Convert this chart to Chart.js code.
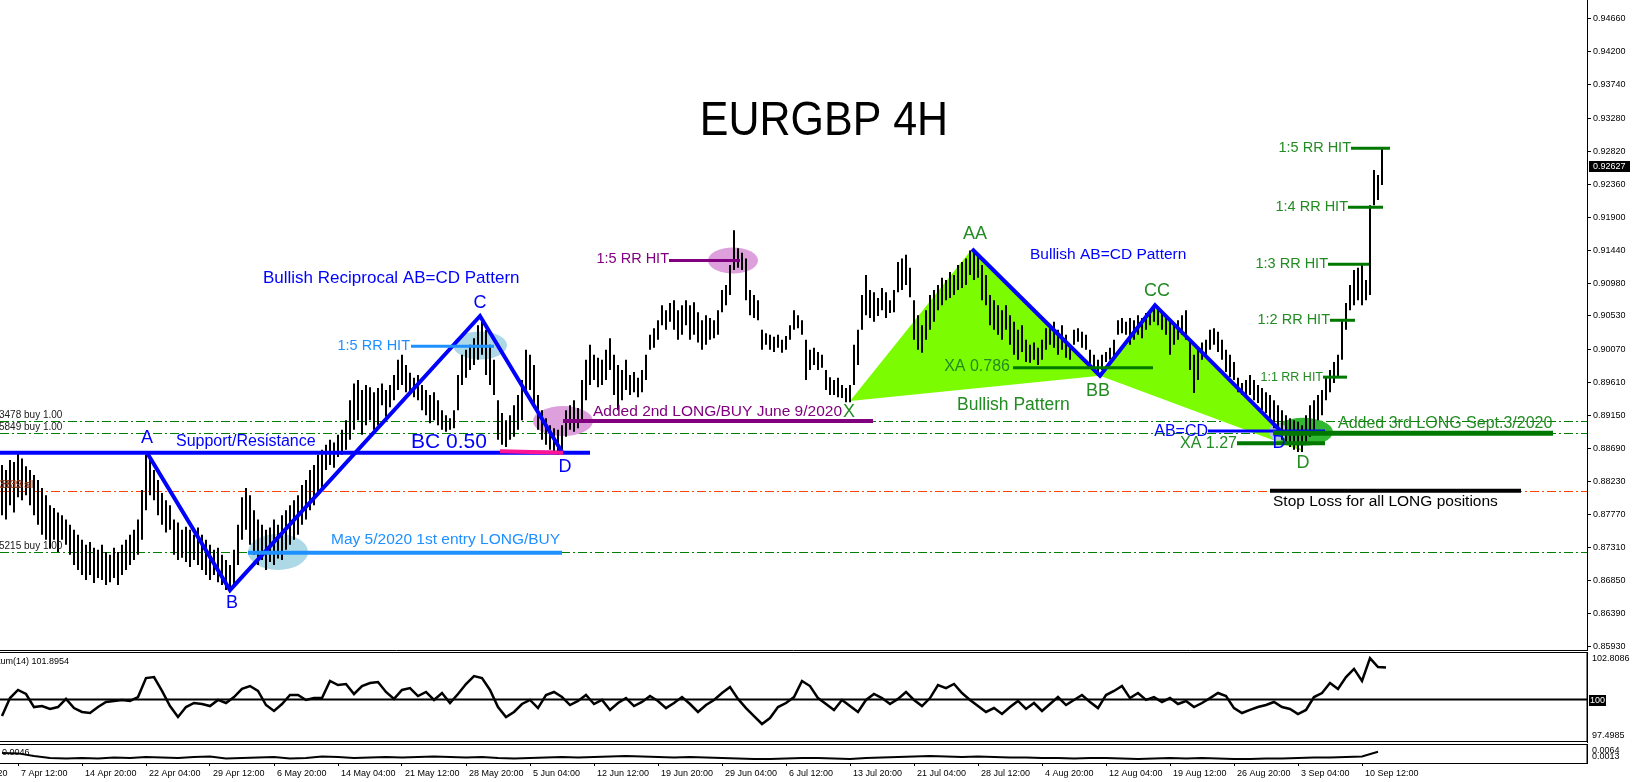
<!DOCTYPE html>
<html><head><meta charset="utf-8">
<script src="https://cdn.jsdelivr.net/npm/chart.js@4.4.1/dist/chart.umd.min.js"></script>
<style>
html,body{margin:0;padding:0;background:#fff;width:1633px;height:782px;overflow:hidden;}
canvas{position:absolute;left:0;display:block;}
#c1{top:0;} #c2{top:651px;} #c3{top:744px;}
</style></head><body>
<canvas id="c1" width="1633" height="651"></canvas>
<canvas id="c2" width="1633" height="93"></canvas>
<canvas id="c3" width="1633" height="38"></canvas>
<script>
// ---------------- DATA ----------------
// x axis = 4H bar index of the visible window (two bars per price sample)
const xMin = 0, xMax = 793.5;
const priceTicks = [0.85930,0.86390,0.86850,0.87310,0.87770,0.88230,0.88690,0.89150,0.89610,0.90070,0.90530,0.90980,0.91440,0.91900,0.92360,0.92820,0.93280,0.93740,0.94200,0.94660];
const priceMin = 0.85874, priceMax = 0.94921;
const lastPrice = 0.92627;
const dateTickBars = [-23,9,41,73,105,137,169,201,233,265,297,329,361,393,425,457,489,521,553,585,617,649,681];
const dateTickLabels = ['31 Mar 2020','7 Apr 12:00','14 Apr 20:00','22 Apr 04:00','29 Apr 12:00','6 May 20:00','14 May 04:00','21 May 12:00','28 May 20:00','5 Jun 04:00','12 Jun 12:00','19 Jun 20:00','29 Jun 04:00','6 Jul 12:00','13 Jul 20:00','21 Jul 04:00','28 Jul 12:00','4 Aug 20:00','12 Aug 04:00','19 Aug 12:00','26 Aug 20:00','3 Sep 04:00','10 Sep 12:00'];

const barHigh = [
0.8846,0.8839,0.8853,0.8850,0.8862,0.8855,0.8844,0.8839,0.8832,0.8825,
0.8814,0.8804,0.8790,0.8786,0.8780,0.8776,0.8770,0.8763,0.8756,0.8749,
0.8742,0.8735,0.8739,0.8731,0.8728,0.8735,0.8725,0.8721,0.8731,0.8725,
0.8735,0.8742,0.8749,0.8756,0.8770,0.8811,0.8860,0.8853,0.8839,0.8825,
0.8807,0.8797,0.8790,0.8770,0.8766,0.8756,0.8760,0.8756,0.8749,0.8759,
0.8749,0.8742,0.8735,0.8728,0.8731,0.8721,0.8714,0.8707,0.8728,0.8763,
0.8801,0.8814,0.8804,0.8783,0.8770,0.8763,0.8756,0.8759,0.8770,0.8763,
0.8776,0.8783,0.8790,0.8797,0.8804,0.8818,0.8825,0.8839,0.8846,0.8860,
0.8867,0.8874,0.8881,0.8877,0.8888,0.8895,0.8908,0.8936,0.8959,0.8964,
0.8950,0.8957,0.8954,0.8947,0.8953,0.8959,0.8950,0.8957,0.8971,0.8992,
0.8999,0.8985,0.8974,0.8967,0.8971,0.8957,0.8950,0.8943,0.8947,0.8936,
0.8922,0.8915,0.8911,0.8922,0.8971,0.8999,0.9006,0.9013,0.9022,0.9040,
0.9045,0.9034,0.9013,0.8992,0.8936,0.8918,0.8908,0.8915,0.8929,0.8943,
0.8964,0.9006,0.8999,0.8985,0.8943,0.8922,0.8911,0.8901,0.8897,0.8895,
0.8901,0.8922,0.8929,0.8936,0.8925,0.8964,0.8992,0.9013,0.8999,0.8995,
0.8992,0.9006,0.9022,0.8999,0.8985,0.8978,0.8992,0.8971,0.8975,0.8967,
0.8978,0.8999,0.9027,0.9036,0.9047,0.9068,0.9061,0.9071,0.9075,0.9061,
0.9068,0.9075,0.9068,0.9072,0.9058,0.9047,0.9054,0.9050,0.9047,0.9061,
0.9089,0.9096,0.9124,0.9172,0.9147,0.9141,0.9133,0.9089,0.9082,0.9075,
0.9034,0.9029,0.9027,0.9024,0.9027,0.9020,0.9025,0.9040,0.9061,0.9054,
0.9047,0.9020,0.9006,0.9009,0.9003,0.8999,0.8978,0.8968,0.8964,0.8967,
0.8957,0.8953,0.8957,0.9013,0.9034,0.9082,0.9110,0.9089,0.9086,0.9078,
0.9092,0.9086,0.9075,0.9089,0.9128,0.9133,0.9138,0.9120,0.9075,0.9054,
0.9040,0.9061,0.9082,0.9089,0.9096,0.9106,0.9103,0.9114,0.9110,0.9124,
0.9128,0.9133,0.9144,0.9141,0.9138,0.9124,0.9110,0.9082,0.9075,0.9068,
0.9061,0.9068,0.9054,0.9045,0.9034,0.9040,0.9020,0.9013,0.9016,0.9009,
0.9020,0.9036,0.9040,0.9045,0.9034,0.9040,0.9027,0.9013,0.9034,0.9036,
0.9031,0.9027,0.9006,0.8999,0.8992,0.8999,0.9003,0.9009,0.9020,0.9047,
0.9050,0.9045,0.9050,0.9047,0.9054,0.9050,0.9057,0.9061,0.9068,0.9066,
0.9058,0.9050,0.9047,0.9040,0.9047,0.9054,0.9061,0.9020,0.8999,0.9006,
0.9016,0.9020,0.9034,0.9036,0.9031,0.9020,0.9006,0.8999,0.8989,0.8967,
0.8960,0.8964,0.8971,0.8964,0.8957,0.8953,0.8947,0.8943,0.8936,0.8929,
0.8922,0.8915,0.8911,0.8908,0.8906,0.8901,0.8915,0.8929,0.8936,0.8943,
0.8950,0.8967,0.8978,0.8989,0.8999,0.9047,0.9071,0.9096,0.9117,0.9120,
0.9124,0.9103,0.9207,0.9256,0.9249,0.9287];

const barLow = [
0.8776,0.8770,0.8790,0.8780,0.8801,0.8797,0.8804,0.8790,0.8776,0.8763,
0.8749,0.8742,0.8730,0.8742,0.8725,0.8742,0.8735,0.8721,0.8707,0.8700,
0.8693,0.8686,0.8693,0.8682,0.8689,0.8686,0.8679,0.8683,0.8689,0.8679,
0.8693,0.8700,0.8707,0.8714,0.8721,0.8742,0.8783,0.8804,0.8797,0.8776,
0.8763,0.8752,0.8756,0.8721,0.8714,0.8717,0.8711,0.8704,0.8714,0.8707,
0.8700,0.8693,0.8686,0.8693,0.8683,0.8679,0.8672,0.8669,0.8679,0.8707,
0.8742,0.8756,0.8735,0.8721,0.8707,0.8714,0.8700,0.8711,0.8707,0.8716,
0.8714,0.8728,0.8735,0.8742,0.8749,0.8763,0.8770,0.8783,0.8790,0.8804,
0.8811,0.8839,0.8846,0.8842,0.8857,0.8860,0.8867,0.8881,0.8895,0.8908,
0.8888,0.8901,0.8908,0.8895,0.8901,0.8929,0.8913,0.8926,0.8936,0.8950,
0.8957,0.8947,0.8943,0.8940,0.8936,0.8922,0.8915,0.8904,0.8908,0.8901,
0.8895,0.8892,0.8895,0.8897,0.8922,0.8957,0.8967,0.8978,0.8985,0.8992,
0.8999,0.8971,0.8957,0.8943,0.8881,0.8874,0.8871,0.8881,0.8885,0.8895,
0.8908,0.8943,0.8950,0.8929,0.8895,0.8881,0.8874,0.8867,0.8864,0.8860,
0.8867,0.8885,0.8895,0.8892,0.8897,0.8908,0.8936,0.8957,0.8964,0.8954,
0.8957,0.8964,0.8978,0.8943,0.8922,0.8936,0.8950,0.8943,0.8947,0.8940,
0.8947,0.8964,0.9006,0.9009,0.9020,0.9040,0.9034,0.9045,0.9034,0.9020,
0.9027,0.9040,0.9020,0.9027,0.9016,0.9006,0.9013,0.9020,0.9022,0.9027,
0.9058,0.9068,0.9082,0.9117,0.9120,0.9117,0.9075,0.9054,0.9050,0.9047,
0.9006,0.9013,0.9006,0.9003,0.9009,0.9002,0.9006,0.9020,0.9034,0.9036,
0.9027,0.8964,0.8978,0.8985,0.8978,0.8981,0.8950,0.8943,0.8943,0.8940,
0.8939,0.8933,0.8933,0.8957,0.8985,0.9034,0.9054,0.9050,0.9045,0.9053,
0.9061,0.9050,0.9057,0.9058,0.9086,0.9089,0.9096,0.9079,0.9020,0.9006,
0.9002,0.9020,0.9034,0.9045,0.9061,0.9068,0.9075,0.9078,0.9082,0.9089,
0.9092,0.9096,0.9110,0.9103,0.9106,0.9075,0.9068,0.9040,0.9034,0.9027,
0.9020,0.9034,0.9013,0.8999,0.8992,0.9003,0.8989,0.8988,0.8992,0.8985,
0.8992,0.9006,0.9013,0.9009,0.8999,0.9006,0.8995,0.8992,0.9013,0.9017,
0.9009,0.9006,0.8981,0.8975,0.8971,0.8978,0.8989,0.8992,0.8995,0.9027,
0.9029,0.9027,0.9013,0.9020,0.9027,0.9022,0.9034,0.9040,0.9045,0.9040,
0.9034,0.9027,0.8999,0.9013,0.9020,0.9027,0.9020,0.8978,0.8946,0.8964,
0.8992,0.8995,0.9006,0.9013,0.9003,0.8992,0.8975,0.8968,0.8964,0.8947,
0.8943,0.8940,0.8943,0.8936,0.8932,0.8922,0.8918,0.8908,0.8897,0.8890,
0.8881,0.8874,0.8871,0.8867,0.8864,0.8864,0.8874,0.8885,0.8895,0.8908,
0.8915,0.8936,0.8947,0.8960,0.8967,0.8992,0.9034,0.9061,0.9068,0.9075,
0.9068,0.9075,0.9082,0.9207,0.9214,0.9235];

// Momentum(14), one value every 4 bars
const momentumValues = [
99.03,100.09,100.57,100.33,99.56,99.62,99.45,99.56,100.04,99.50,
99.27,99.21,99.56,99.86,99.92,99.98,99.92,100.15,101.27,101.33,
100.51,99.62,98.97,99.56,99.80,99.74,99.62,99.98,99.80,100.15,
100.63,100.80,100.51,99.68,99.33,99.74,100.27,100.27,99.98,100.09,
100.09,101.10,100.86,100.92,100.33,100.80,100.98,101.04,100.45,100.04,
100.57,100.68,100.21,100.45,99.98,100.39,99.80,100.33,100.92,101.39,
101.27,100.57,99.56,98.97,99.27,99.74,99.98,99.50,100.27,100.45,
100.15,99.68,99.92,100.27,99.74,99.98,99.39,99.80,100.09,99.62,
99.86,100.21,99.92,99.50,99.80,100.15,99.74,99.27,99.68,99.98,
100.39,100.74,100.04,99.50,99.03,98.56,98.91,99.56,99.80,100.15,
101.10,100.80,100.09,99.74,99.39,99.98,99.62,99.27,99.98,100.33,
100.09,99.74,100.04,100.45,99.98,99.62,100.09,100.86,100.68,100.92,
100.39,99.98,99.62,99.27,99.50,99.15,99.56,99.92,99.45,99.80,
99.33,99.74,100.15,99.68,99.98,100.27,99.86,99.50,100.27,100.51,
100.80,100.09,100.39,99.98,100.15,99.86,100.09,99.74,99.92,99.56,
99.80,100.09,100.39,100.21,99.50,99.21,99.39,99.56,99.68,99.86,
99.56,99.45,99.15,99.39,100.15,100.39,100.98,100.63,101.33,101.81,
101.10,102.45,101.92,101.90];
const momentumMin = 97.4985, momentumMax = 102.8086, momentumLevel = 100;
const momentumCaption = 'Momentum(14) 101.8954';

// lower indicator, one value every 8 bars
const lowerValues = [
0.0050,0.0048,0.0036,0.0027,0.0025,0.0027,0.0025,0.0030,0.0027,0.0032,
0.0030,0.0027,0.0032,0.0034,0.0025,0.0027,0.0030,0.0032,0.0025,0.0027,
0.0034,0.0032,0.0027,0.0030,0.0032,0.0030,0.0032,0.0034,0.0032,0.0030,
0.0032,0.0027,0.0025,0.0027,0.0030,0.0032,0.0030,0.0032,0.0034,0.0036,
0.0034,0.0032,0.0030,0.0032,0.0030,0.0027,0.0025,0.0023,0.0023,0.0025,
0.0027,0.0027,0.0025,0.0023,0.0027,0.0030,0.0032,0.0034,0.0036,0.0034,
0.0032,0.0034,0.0032,0.0030,0.0030,0.0027,0.0027,0.0025,0.0027,0.0027,
0.0025,0.0023,0.0025,0.0027,0.0025,0.0027,0.0025,0.0023,0.0023,0.0025,
0.0025,0.0027,0.0030,0.0030,0.0032,0.0034,0.0055];
const lowerMin = 0.0005, lowerMax = 0.0090;
const lowerCaption = '0.0046';
const lowerScaleLabels = ['0.0064', '0.0013'];

// trade order levels (price) and their tags
const orderLevels = [0.8907, 0.8890, 0.8810, 0.8725];
const orderTags = ['3478 buy 1.00', '5849 buy 1.00', '3839 sl', '5215 buy 1.00'];

// drawn pattern anchors: [bar, price]
const supportLine = [[0,0.8863],[295,0.8863]];
const reciprocalLegs = [[73.5,0.8863],[115,0.8672],[240,0.9053],[281,0.8864]];
const bcLine = [[250,0.8865],[281.5,0.8863]];
const firstRR = [[205.5,0.9011],[247,0.9011]];
const firstEntry = [[124,0.8724],[281,0.8724]];
const secondRR = [[334.5,0.9130],[370,0.9130]];
const secondEntry = [[281.5,0.8907],[436.5,0.8907]];
const harmonicLeft = [[425,0.8935],[486,0.9146],[550,0.8970]];
const harmonicRight = [[550,0.8970],[577.5,0.9068],[651.5,0.8865]];
const abcdLegs = [[486,0.9146],[550,0.8970],[577.5,0.9068],[640,0.8894]];
const xa786 = [[506.5,0.8981],[576.5,0.8981]];
const abcdLevel = [[604,0.8893],[662.5,0.8893]];
const xa127 = [[618.5,0.8876],[662.5,0.8876]];
const thirdEntry = [[636.5,0.8890],[776.5,0.8890]];
const rrLevels = [[[675.5,0.9286],[695,0.9286]],[[674,0.9204],[691.5,0.9204]],[[664,0.9125],[684.5,0.9125]],[[665,0.9047],[677.5,0.9047]],[[661.5,0.8968],[673.5,0.8968]]];
const stopLine = [[635,0.8810],[760.5,0.8810]];
// ellipse centres [bar, price]
const ellipseCentres = [[240,0.9012],[139,0.8725],[366.5,0.9130],[281.5,0.8907],[651.5,0.8892],[639,0.8892]];

// text notes: [text, bar, price]
const notes = [
 ['EURGBP 4H',412,0.9323],
 ['Bullish Reciprocal AB=CD Pattern',131.5,0.9106],
 ['A',73.5,0.8883],['B',116,0.8654],['C',240,0.9071],['D',282.5,0.8843],
 ['Support/Resistance',88,0.8879],
 ['BC 0.50',205.5,0.8878],
 ['1:5 RR HIT',205,0.9011],
 ['May 5/2020 1st entry LONG/BUY',165.5,0.8742],
 ['1:5 RR HIT',334.5,0.9132],
 ['Added 2nd LONG/BUY June 9/2020',296.5,0.8920],
 ['X',421.5,0.8920],
 ['AA',487.5,0.9167],['BB',549,0.8949],['CC',578.5,0.9088],
 ['Bullish AB=CD Pattern',515,0.9138],
 ['Bullish Pattern',478.5,0.8929],
 ['XA 0.786',505,0.8982],
 ['AB=CD',604,0.8892],
 ['XA 1.27',618.5,0.8876],
 ['D',639.5,0.8876],['D',651.5,0.8849],
 ['Added 3rd LONG Sept.3/2020',669,0.8904],
 ['1:5 RR HIT',675.5,0.9286],['1:4 RR HIT',674,0.9204],['1:3 RR HIT',664,0.9125],['1:2 RR HIT',665,0.9047],['1:1 RR HIT',661.5,0.8968],
 ['Stop Loss for all LONG positions',636.5,0.8795]
];

// ---------------- STYLE ----------------
const FONT = '"Liberation Sans", Arial, Helvetica, sans-serif';
const BLUE='#0000ff', DBLUE='#1e90ff', PURP='#800080', GTXT='#228b22', GLINE='#007800';
const noteStyles = [
 ['#000',48,'center',0.895],
 [BLUE,17,'left'],
 [BLUE,18,'center'],[BLUE,18,'center'],[BLUE,18,'center'],[BLUE,18,'center'],
 [BLUE,16,'left'],
 [BLUE,21,'left'],
 [DBLUE,14.5,'right'],
 [DBLUE,15.5,'left'],
 [PURP,14.5,'right'],
 [PURP,15.5,'left'],
 [GTXT,18,'left'],
 [GTXT,18,'center'],[GTXT,18,'center'],[GTXT,18,'center'],
 [BLUE,15.5,'left'],
 [GTXT,17.5,'left'],
 [GTXT,16,'right'],
 [BLUE,16,'right'],
 [GTXT,16,'right'],
 [BLUE,18,'center'],[GTXT,18,'center'],
 [GTXT,16,'left'],
 [GTXT,14.5,'right'],[GTXT,14.5,'right'],[GTXT,14.5,'right'],[GTXT,14.5,'right'],[GTXT,12.5,'right'],
 ['#000',15.5,'left']
];
const ellipseStyles = [
 ['rgb(173,216,230)',27,14],['rgb(173,216,230)',30,18],['rgb(221,160,221)',25,13],['rgb(221,160,221)',30,15],['rgb(50,185,50)',30,14],['rgb(176,196,222)',9,9]
];
const orderColors = ['#008000','#008000','#ff4500','#008000'];

Chart.defaults.font.family = FONT;
Chart.defaults.color = '#000';
Chart.defaults.animation = false;

function P(chart, pt){ return [chart.scales.x.getPixelForValue(pt[0]), chart.scales.y.getPixelForValue(pt[1])]; }
function poly(ctx, chart, pts, color, w){
  ctx.save(); ctx.strokeStyle=color; ctx.lineWidth=w; ctx.lineJoin='miter'; ctx.lineCap='butt';
  ctx.beginPath(); pts.forEach((p,i)=>{const [x,y]=P(chart,p); if(i) ctx.lineTo(x,y); else ctx.moveTo(x,y);}); ctx.stroke(); ctx.restore();
}
function fillPoly(ctx, chart, pts, color){
  ctx.save(); ctx.fillStyle=color; ctx.beginPath(); pts.forEach((p,i)=>{const [x,y]=P(chart,p); if(i) ctx.lineTo(x,y); else ctx.moveTo(x,y);}); ctx.closePath(); ctx.fill(); ctx.restore();
}
function text(ctx, s, x, y, color, size, align, sx){
  ctx.save(); ctx.font = size+'px '+FONT; ctx.fillStyle=color; ctx.textAlign=align; ctx.textBaseline='middle';
  if (sx){ ctx.translate(x,y); ctx.scale(sx,1); ctx.fillText(s,0,0); } else ctx.fillText(s,x,y);
  ctx.restore();
}
function fixAxis(s){ s.width = 46; s.paddingTop = 0; s.paddingBottom = 0; s.paddingLeft = 0; s.paddingRight = 0; }

const mainDeco = {
  id:'mainDeco',
  beforeDatasetsDraw(chart){
    const {ctx, chartArea:a} = chart;
    ctx.save(); ctx.beginPath(); ctx.rect(a.left,a.top,a.width,a.height); ctx.clip();
    orderLevels.forEach((lv,i)=>{
      const y = Math.round(chart.scales.y.getPixelForValue(lv))+0.5;
      ctx.save(); ctx.strokeStyle=orderColors[i]; ctx.lineWidth=1; ctx.setLineDash([9,3,2,3]);
      ctx.beginPath(); ctx.moveTo(a.left,y); ctx.lineTo(a.right,y); ctx.stroke(); ctx.restore();
    });
    fillPoly(ctx, chart, harmonicLeft, '#7cfc00');
    fillPoly(ctx, chart, harmonicRight, '#7cfc00');
    ellipseCentres.forEach((c,i)=>{
      const [x,y]=P(chart,c); const st=ellipseStyles[i];
      ctx.save(); ctx.fillStyle=st[0]; ctx.beginPath(); ctx.ellipse(x,y,st[1],st[2],0,0,Math.PI*2); ctx.fill(); ctx.restore();
    });
    ctx.restore();
  },
  afterDatasetsDraw(chart){
    const {ctx, chartArea:a} = chart;
    ctx.save(); ctx.beginPath(); ctx.rect(a.left,a.top,a.width,a.height); ctx.clip();
    poly(ctx,chart,supportLine,BLUE,4);
    poly(ctx,chart,reciprocalLegs,BLUE,4);
    poly(ctx,chart,bcLine,'#ff1493',4);
    poly(ctx,chart,firstRR,DBLUE,3);
    poly(ctx,chart,firstEntry,DBLUE,4);
    poly(ctx,chart,secondRR,PURP,3);
    poly(ctx,chart,secondEntry,PURP,4);
    poly(ctx,chart,abcdLegs,BLUE,4);
    poly(ctx,chart,xa786,GLINE,3);
    poly(ctx,chart,abcdLevel,BLUE,3);
    poly(ctx,chart,xa127,GLINE,4);
    poly(ctx,chart,thirdEntry,GLINE,5);
    rrLevels.forEach(l=>poly(ctx,chart,l,GLINE,3));
    poly(ctx,chart,stopLine,'#000',4);
    orderLevels.forEach((lv,i)=>{
      const y = chart.scales.y.getPixelForValue(lv)-6;
      text(ctx, orderTags[i], -1, y, i===2 ? '#b04010' : '#202020', 10, 'left');
    });
    text(ctx, '3813 sl', 1, chart.scales.y.getPixelForValue(orderLevels[2])-6, '#6a3020', 10, 'left');
    notes.forEach((n,i)=>{
      const [x,y]=P(chart,[n[1],n[2]]); const st=noteStyles[i];
      text(ctx, n[0], x, y, st[0], st[1], st[2], st[3]);
    });
    ctx.restore();
  },
  afterDraw(chart){
    const {ctx, chartArea:a} = chart;
    ctx.save(); ctx.strokeStyle='#000'; ctx.lineWidth=1;
    ctx.beginPath(); ctx.moveTo(0,a.bottom-0.5); ctx.lineTo(a.right,a.bottom-0.5); ctx.stroke();
    const y = chart.scales.y.getPixelForValue(lastPrice);
    ctx.fillStyle='#000'; ctx.fillRect(a.right+2, Math.round(y)-4, 41, 11);
    ctx.restore();
    text(ctx, lastPrice.toFixed(5), a.right+6, Math.round(y)+1.5, '#fff', 9, 'left');
  }
};

new Chart(document.getElementById('c1'), {
  type:'bar',
  data:{datasets:[{
    data: barHigh.map((h,k)=>({x:2*k+1, y:[barLow[k], h]})),
    backgroundColor:'#000', borderWidth:0, barThickness:2, inflateAmount:0, grouped:false
  }]},
  options:{
    responsive:false, animation:false, events:[],
    layout:{padding:0},
    plugins:{legend:{display:false}, tooltip:{enabled:false}},
    scales:{
      x:{type:'linear', min:xMin, max:xMax, offset:false, display:false, grid:{offset:false}},
      y:{position:'right', min:priceMin, max:priceMax,
         afterBuildTicks:s=>{ s.ticks = priceTicks.map(v=>({value:v})); },
         afterFit:fixAxis,
         ticks:{callback:v=>Number(v).toFixed(5), font:{size:9}, color:'#000', padding:2, crossAlign:'near', autoSkip:false},
         grid:{drawOnChartArea:false, drawTicks:true, tickLength:4, color:'#000'},
         border:{display:true, color:'#000', width:1}}
    }
  },
  plugins:[mainDeco]
});

const momDeco = {
  id:'momDeco',
  afterDraw(chart){
    const {ctx, chartArea:a} = chart;
    ctx.save(); ctx.strokeStyle='#000'; ctx.lineWidth=1;
    ctx.strokeRect(-1, a.top+0.5, a.right+1, a.height-1);
    const y100 = chart.scales.y.getPixelForValue(momentumLevel);
    ctx.fillStyle='#000'; ctx.fillRect(a.right+2, Math.round(y100)-5, 17, 11);
    ctx.restore();
    text(ctx, '100', a.right+3, Math.round(y100)+0.5, '#fff', 9, 'left');
    text(ctx, momentumMax.toFixed(4), a.right+5, a.top+7, '#000', 9, 'left');
    text(ctx, momentumMin.toFixed(4), a.right+5, a.bottom-6, '#000', 9, 'left');
    ctx.save(); ctx.font='9px '+FONT; const w = ctx.measureText('Moment').width; ctx.restore();
    text(ctx, momentumCaption, -w+0.5, a.top+10, '#000', 9, 'left');
  }
};

new Chart(document.getElementById('c2'), {
  type:'line',
  data:{datasets:[
    {data: momentumValues.map((v,m)=>({x:4*m+1, y:v})), borderColor:'#000', borderWidth:2.5, pointRadius:0, tension:0, fill:false},
    {data: [{x:xMin,y:momentumLevel},{x:xMax,y:momentumLevel}], borderColor:'#000', borderWidth:2, pointRadius:0, fill:false}
  ]},
  options:{
    responsive:false, animation:false, events:[],
    layout:{padding:{top:1,bottom:2,left:0,right:0}},
    plugins:{legend:{display:false}, tooltip:{enabled:false}},
    scales:{
      x:{type:'linear', min:xMin, max:xMax, offset:false, display:false},
      y:{position:'right', min:momentumMin, max:momentumMax, afterFit:fixAxis,
         ticks:{display:false}, grid:{display:false, drawTicks:false}, border:{display:true, color:'#000', width:1}}
    }
  },
  plugins:[momDeco]
});

const lowDeco = {
  id:'lowDeco',
  afterDraw(chart){
    const {ctx, chartArea:a} = chart;
    ctx.save(); ctx.strokeStyle='#000'; ctx.lineWidth=1;
    ctx.strokeRect(-1, a.top+0.5, a.right+1, a.height);
    ctx.restore();
    text(ctx, lowerScaleLabels[0], a.right+5, a.top+7, '#000', 9, 'left');
    text(ctx, lowerScaleLabels[1], a.right+5, a.top+13, '#000', 9, 'left');
    text(ctx, lowerCaption, 2, a.top+9, '#000', 9, 'left');
  }
};

new Chart(document.getElementById('c3'), {
  type:'line',
  data:{datasets:[
    {data: lowerValues.map((v,j)=>({x:8*j+1, y:v})), borderColor:'#000', borderWidth:2, pointRadius:0, tension:0, fill:false}
  ]},
  options:{
    responsive:false, animation:false, events:[],
    layout:{padding:0},
    plugins:{legend:{display:false}, tooltip:{enabled:false}},
    scales:{
      x:{type:'linear', min:xMin, max:xMax, offset:false, position:'bottom',
         afterBuildTicks:s=>{ s.ticks = dateTickBars.map(v=>({value:v})); },
         afterFit:s=>{ s.height = 19; s.paddingLeft = 0; s.paddingRight = 0; },
         ticks:{callback:(v,i)=>dateTickLabels[i], align:'start', labelOffset:3, autoSkip:false, maxRotation:0, minRotation:0, font:{size:9}, color:'#000', padding:2},
         grid:{drawOnChartArea:false, drawTicks:true, tickLength:3, color:'#000', offset:false},
         border:{display:false}},
      y:{position:'right', min:lowerMin, max:lowerMax, afterFit:fixAxis,
         ticks:{display:false}, grid:{display:false, drawTicks:false}, border:{display:true, color:'#000', width:1}}
    }
  },
  plugins:[lowDeco]
});
</script>
</body></html>
